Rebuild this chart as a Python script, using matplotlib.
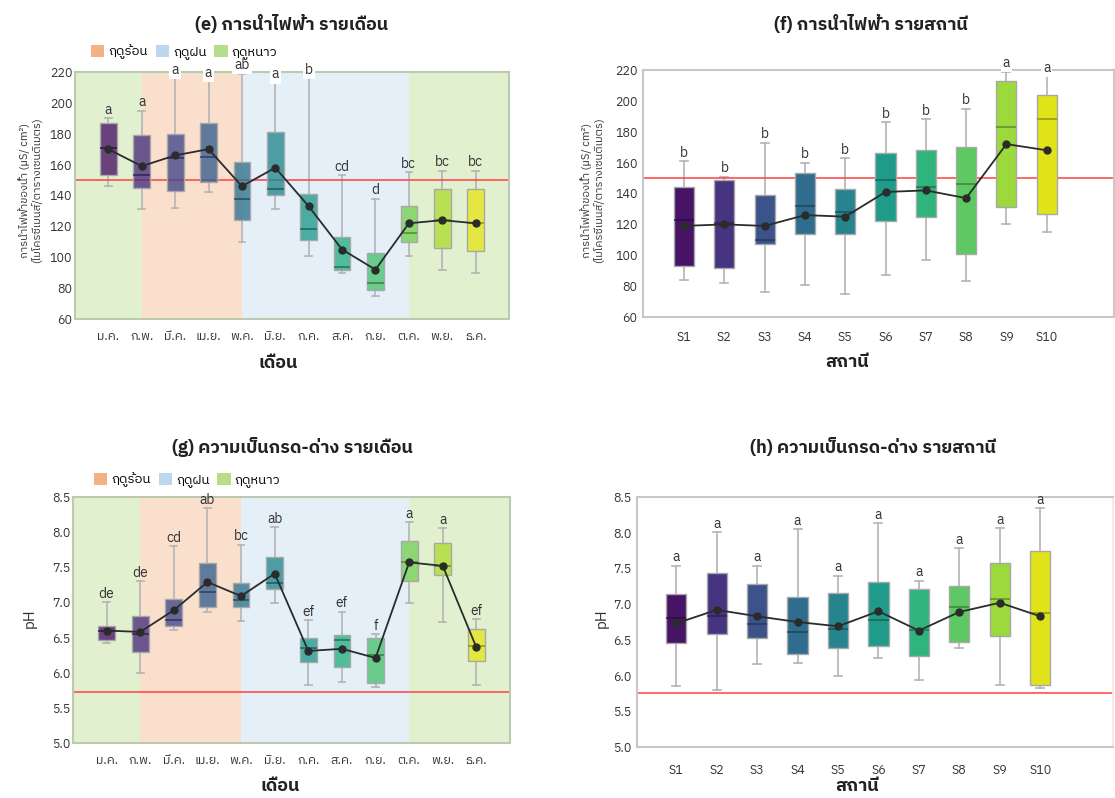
import numpy as np
import matplotlib
matplotlib.use('Agg')
import matplotlib.pyplot as plt
from matplotlib import font_manager as fm
from matplotlib.ft2font import FT2Font
from matplotlib.patches import Patch

# ---- data ----
months = ['ม.ค.', 'ก.พ.', 'มี.ค.', 'เม.ย.', 'พ.ค.', 'มิ.ย.', 'ก.ค.', 'ส.ค.', 'ก.ย.', 'ต.ค.', 'พ.ย.', 'ธ.ค.']
stations = ['S1', 'S2', 'S3', 'S4', 'S5', 'S6', 'S7', 'S8', 'S9', 'S10']

ec_month_lo = [146, 131, 132, 142, 110, 131, 101, 90, 75, 101, 92, 90]
ec_month_q1 = [153, 145, 143, 149, 124, 140, 111, 92, 79, 110, 106, 104]
ec_month_med = [171, 153, 164, 165, 138, 144, 118, 94, 83, 116, 124, 122]
ec_month_q3 = [187, 179, 180, 187, 162, 181, 141, 113, 103, 133, 144, 144]
ec_month_hi = [190, 195, 216, 214, 219, 213, 216, 153, 138, 155, 156, 156]
ec_month_mean = [170, 159, 166, 170, 146, 158, 133, 105, 92, 122, 124, 122]
ec_month_grp = ['a', 'a', 'a', 'a', 'ab', 'a', 'b', 'cd', 'd', 'bc', 'bc', 'bc']

ec_st_lo = [84, 82, 76, 81, 75, 87, 97, 83, 120, 115]
ec_st_q1 = [93, 92, 107, 114, 114, 122, 125, 101, 131, 127]
ec_st_med = [123, 121, 110, 132, 128, 149, 144, 146, 183, 188]
ec_st_q3 = [144, 149, 139, 153, 143, 166, 168, 170, 213, 204]
ec_st_hi = [161, 151, 173, 160, 163, 186, 188, 195, 219, 216]
ec_st_mean = [119, 120, 119, 126, 125, 141, 142, 137, 172, 168]
ec_st_grp = ['b', 'b', 'b', 'b', 'b', 'b', 'b', 'b', 'a', 'a']

ph_month_lo = [6.42, 6.00, 6.61, 6.87, 6.73, 6.99, 5.83, 5.87, 5.79, 6.99, 6.72, 5.83]
ph_month_q1 = [6.47, 6.30, 6.66, 6.93, 6.93, 7.19, 6.15, 6.08, 5.85, 7.31, 7.39, 6.17]
ph_month_med = [6.60, 6.55, 6.75, 7.15, 7.04, 7.28, 6.35, 6.46, 6.25, 7.57, 7.52, 6.38]
ph_month_q3 = [6.67, 6.80, 7.05, 7.56, 7.28, 7.65, 6.50, 6.54, 6.50, 7.87, 7.84, 6.62]
ph_month_hi = [7.00, 7.30, 7.80, 8.34, 7.82, 8.07, 6.75, 6.87, 6.55, 8.14, 8.06, 6.76]
ph_month_mean = [6.60, 6.58, 6.89, 7.29, 7.09, 7.41, 6.31, 6.34, 6.21, 7.57, 7.52, 6.36]
ph_month_grp = ['de', 'de', 'cd', 'ab', 'bc', 'ab', 'ef', 'ef', 'f', 'a', 'a', 'ef']

ph_st_lo = [5.85, 5.80, 6.16, 6.17, 6.00, 6.24, 5.94, 6.39, 5.87, 5.82]
ph_st_q1 = [6.45, 6.58, 6.53, 6.30, 6.38, 6.41, 6.27, 6.47, 6.56, 5.87]
ph_st_med = [6.80, 6.83, 6.72, 6.61, 6.65, 6.78, 6.64, 6.96, 7.07, 6.87]
ph_st_q3 = [7.14, 7.44, 7.28, 7.10, 7.15, 7.31, 7.21, 7.26, 7.57, 7.75]
ph_st_hi = [7.54, 8.01, 7.54, 8.05, 7.40, 8.13, 7.33, 7.78, 8.06, 8.34]
ph_st_mean = [6.73, 6.92, 6.83, 6.75, 6.69, 6.90, 6.63, 6.89, 7.02, 6.83]
ph_st_grp = ['a'] * 10

ec_limit = 150
ph_limit_month = 5.72
ph_limit_st = 5.76

season_names = ['ฤดูร้อน', 'ฤดูฝน', 'ฤดูหนาว']
season_colors = ['#F4B183', '#BDD7EE', '#B5DD8A']
# (start, end, season index) in month positions
season_spans = [(-1, 1, 2), (1, 4, 0), (4, 9, 1), (9, 12, 2)]

# ---- fonts: find something with Thai glyphs ----
thai_fonts = []
for f in fm.fontManager.ttflist:
    try:
        if 0x0E01 in FT2Font(f.fname).get_charmap() and f.name not in thai_fonts:
            thai_fonts.append(f.name)
    except Exception:
        pass
thai_fonts.sort(key=lambda n: (0 if 'Sans' in n else 1, n))
plt.rcParams['font.family'] = thai_fonts[:1] + ['DejaVu Sans']

W, H = 1115, 798
fig = plt.figure(figsize=(W / 100, H / 100), dpi=100)


def px_axes(left, top, right, bottom):
    return fig.add_axes([left / W, 1 - bottom / H, (right - left) / W, (bottom - top) / H])


def draw_panel(ax, lo, q1, med, q3, hi, mean, grp, colors, alpha, ylim, limit, labels, top_gap):
    stats = []
    for a, b, c, d, e in zip(lo, q1, med, q3, hi):
        stats.append(dict(whislo=a, q1=b, med=c, q3=d, whishi=e, fliers=[]))
    pos = np.arange(len(stats))
    res = ax.bxp(stats, positions=pos, widths=0.5, patch_artist=True, showfliers=False,
                 manage_ticks=False, capwidths=0.2,
                 whiskerprops=dict(color='#b4b4b4', lw=1.2),
                 capprops=dict(color='#b4b4b4', lw=1.2),
                 boxprops=dict(edgecolor='#a8a8a8', lw=1.0))
    for patch, c in zip(res['boxes'], colors):
        patch.set_facecolor((c[0], c[1], c[2], alpha))
        patch.set_zorder(3)
    for line, c in zip(res['medians'], colors):
        line.set_color((c[0] * 0.6, c[1] * 0.6, c[2] * 0.6, 0.8))
        line.set_linewidth(1.2)
        line.set_zorder(4)
    ax.plot(pos, mean, '-o', color='#2b2b2b', ms=5, lw=1.3, zorder=6)
    ax.axhline(limit, color='#ff4040', lw=1.1, zorder=2)
    for i, g in enumerate(grp):
        box = None
        if hi[i] > ylim[1] - top_gap:
            box = dict(facecolor='white', edgecolor='none', pad=1.5)
        ax.annotate(g, (pos[i], hi[i]), xytext=(0, 1), textcoords='offset points',
                    ha='center', va='bottom', fontsize=10, color='#333333',
                    annotation_clip=False, bbox=box, zorder=8)
    ax.set_ylim(*ylim)
    ax.set_xticks(pos)
    ax.set_xticklabels(labels)
    ax.tick_params(length=0, labelsize=9, colors='#333333')
    for s in ax.spines.values():
        s.set_color('#c8c8c8')
        s.set_linewidth(1.5)
    ax.set_facecolor('white')


month_colors = plt.cm.viridis((np.arange(12) + 0.5) / 12)
station_colors = plt.cm.viridis((np.arange(10) + 0.5) / 10)
legend_handles = [Patch(facecolor=c, edgecolor='none') for c in season_colors]

# (e) EC by month
ax_e = px_axes(75, 72, 509, 319)
for a, b, k in season_spans:
    ax_e.axvspan(a, b, color=season_colors[k], alpha=0.4, lw=0, zorder=0)
draw_panel(ax_e, ec_month_lo, ec_month_q1, ec_month_med, ec_month_q3, ec_month_hi, ec_month_mean,
           ec_month_grp, month_colors, 0.78, (60, 220), ec_limit, months, 8)
ax_e.set_xlim(-1, 12)
ax_e.set_yticks(np.arange(60, 221, 20))
ax_e.tick_params(axis='x', pad=8)
ax_e.tick_params(axis='y', pad=2)
for s in ax_e.spines.values():
    s.set_color('#bccab2')

# (f) EC by station
ax_f = px_axes(643, 70, 1114, 317)
draw_panel(ax_f, ec_st_lo, ec_st_q1, ec_st_med, ec_st_q3, ec_st_hi, ec_st_mean,
           ec_st_grp, station_colors, 1.0, (60, 220), ec_limit, stations, 8)
ax_f.set_xlim(-1.02, 10.67)
ax_f.set_yticks(np.arange(60, 221, 20))
ax_f.tick_params(axis='x', pad=10)
ax_f.tick_params(axis='y', pad=4)

# (g) pH by month
ax_g = px_axes(73, 497, 510, 743)
for a, b, k in season_spans:
    ax_g.axvspan(a, b, color=season_colors[k], alpha=0.4, lw=0, zorder=0)
draw_panel(ax_g, ph_month_lo, ph_month_q1, ph_month_med, ph_month_q3, ph_month_hi, ph_month_mean,
           ph_month_grp, month_colors, 0.78, (5.0, 8.5), ph_limit_month, months, 0.15)
ax_g.set_xlim(-1, 12)
ax_g.set_yticks(np.arange(5.0, 8.51, 0.5))
ax_g.set_yticklabels(['%.1f' % v for v in np.arange(5.0, 8.51, 0.5)])
ax_g.tick_params(axis='x', pad=8)
ax_g.tick_params(axis='y', pad=2)
for s in ax_g.spines.values():
    s.set_color('#bccab2')

# (h) pH by station
ax_h = px_axes(637, 497, 1113, 747)
draw_panel(ax_h, ph_st_lo, ph_st_q1, ph_st_med, ph_st_q3, ph_st_hi, ph_st_mean,
           ph_st_grp, station_colors, 1.0, (5.0, 8.5), ph_limit_st, stations, 0.15)
ax_h.set_xlim(-0.97, 10.8)
ax_h.set_yticks(np.arange(5.0, 8.51, 0.5))
ax_h.set_yticklabels(['%.1f' % v for v in np.arange(5.0, 8.51, 0.5)])
ax_h.tick_params(axis='x', pad=12)
ax_h.tick_params(axis='y', pad=4)
ax_h.spines['right'].set_color('#ececec')

# titles, axis labels, legends
title_kw = dict(ha='center', va='center', fontsize=13, fontweight='bold', color='#222222')
fig.text(292 / W, 1 - 24 / H, '(e) การนำไฟฟ้า รายเดือน', **title_kw)
fig.text(871 / W, 1 - 24 / H, '(f) การนำไฟฟ้า รายสถานี', **title_kw)
fig.text(292 / W, 1 - 447 / H, '(g) ความเป็นกรด-ด่าง รายเดือน', **title_kw)
fig.text(873 / W, 1 - 447 / H, '(h) ความเป็นกรด-ด่าง รายสถานี', **title_kw)

xl_kw = dict(ha='center', va='center', fontsize=13, fontweight='bold', color='#222222')
fig.text(278 / W, 1 - 363 / H, 'เดือน', **xl_kw)
fig.text(847 / W, 1 - 362 / H, 'สถานี', **xl_kw)
fig.text(280 / W, 1 - 786 / H, 'เดือน', **xl_kw)
fig.text(857 / W, 1 - 786 / H, 'สถานี', **xl_kw)

ec_label = 'การนำไฟฟ้าของน้ำ (µS/ cm²)\n(ไมโครซีเมนส์/ตารางเซนติเมตร)'
fig.text(30 / W, 1 - 190 / H, ec_label, rotation=90, ha='center', va='center',
         multialignment='center', fontsize=8, color='#333333', linespacing=1.2)
fig.text(592 / W, 1 - 190 / H, ec_label, rotation=90, ha='center', va='center',
         multialignment='center', fontsize=8, color='#333333', linespacing=1.2)
fig.text(30 / W, 1 - 618 / H, 'pH', rotation=90, ha='center', va='center',
         fontsize=11, color='#333333')
fig.text(602 / W, 1 - 618 / H, 'pH', rotation=90, ha='center', va='center',
         fontsize=11, color='#333333')

leg_kw = dict(ncol=3, frameon=False, fontsize=9.5, handlelength=1.0, handleheight=1.0,
              handletextpad=0.3, columnspacing=0.6, borderaxespad=0, loc='center left')
fig.legend(legend_handles, season_names, bbox_to_anchor=(86 / W, 1 - 52 / H), **leg_kw)
fig.legend(legend_handles, season_names, bbox_to_anchor=(89 / W, 1 - 480 / H), **leg_kw)

fig.savefig('out.png', dpi=100)
